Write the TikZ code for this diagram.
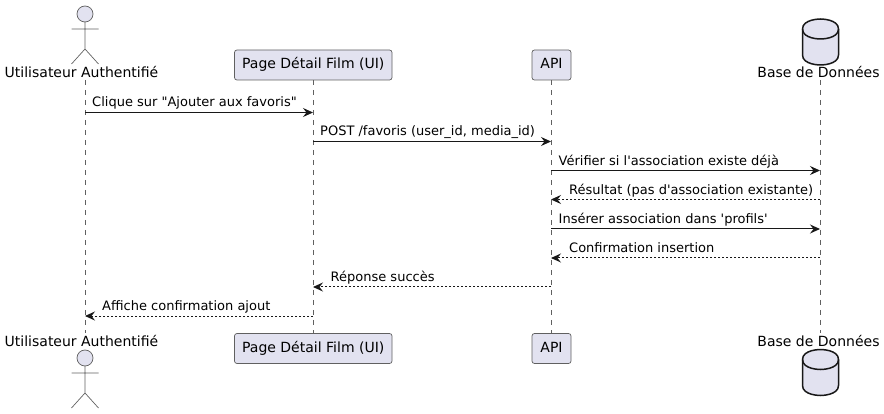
\documentclass[tikz,border=0pt]{standalone}
\usepackage{fontspec}
\setmainfont{DejaVu Sans}[Ligatures=TeXOff]
\usetikzlibrary{arrows.meta}
\definecolor{pfill}{HTML}{E2E2F0}
\definecolor{pline}{HTML}{181818}
\definecolor{thinline}{HTML}{606060}
\tikzset{
  x=1pt,y=-1pt,
  lifeline/.style={draw=thinline,line width=0.5pt,dash pattern=on 5pt off 5pt},
  partbox/.style={draw=thinline,fill=pfill,line width=0.7pt,rounded corners=2.5pt,inner sep=0pt,minimum height=30pt,text height=10.5pt,text depth=3pt,font=\fontsize{14}{16}\selectfont},
  partlabel/.style={inner sep=0pt,anchor=base,font=\fontsize{14}{16}\selectfont},
  actorline/.style={draw=thinline,line width=0.7pt},
  dbline/.style={draw=pline,line width=1.5pt},
  msg/.style={draw=pline,line width=1pt,-{Stealth[length=10pt,width=9pt,inset=3.5pt]}},
  msgret/.style={msg,dash pattern=on 2pt off 2pt},
  msgtext/.style={inner sep=0pt,anchor=base west,font=\fontsize{13}{15}\selectfont},
}
\newcommand{\actorfig}[2]{%
  \draw[actorline,fill=pfill] (#1,#2) circle[radius=8];
  \draw[actorline] (#1,#2+8) -- (#1,#2+35) (#1-13.5,#2+15) -- (#1+13.5,#2+15)
    (#1-13.5,#2+50) -- (#1,#2+35) -- (#1+13.5,#2+50);
}
\newcommand{\dbfig}[2]{%
  \filldraw[dbline,fill=pfill] (#1,#2+10) .. controls (#1,#2) and (#1+18,#2) .. (#1+18,#2)
    .. controls (#1+18,#2) and (#1+36,#2) .. (#1+36,#2+10) -- (#1+36,#2+36)
    .. controls (#1+36,#2+46) and (#1+18,#2+46) .. (#1+18,#2+46)
    .. controls (#1+18,#2+46) and (#1,#2+46) .. (#1,#2+36) -- cycle;
  \draw[dbline] (#1,#2+10) .. controls (#1,#2+20) and (#1+18,#2+20) .. (#1+18,#2+20)
    .. controls (#1+18,#2+20) and (#1+36,#2+20) .. (#1+36,#2+10);
}
\begin{document}
\begin{tikzpicture}
\useasboundingbox (0,0) rectangle (884,414);
% lifelines
\coordinate (ut) at (85,80); \coordinate (ub) at (85,333);
\coordinate (pt) at (313,80); \coordinate (pb) at (313,333);
\coordinate (at) at (551,80); \coordinate (ab) at (551,333);
\coordinate (dt) at (820,80); \coordinate (db) at (820,333);
\draw[lifeline] (ut) -- (ub);
\draw[lifeline] (pt) -- (pb);
\draw[lifeline] (at) -- (ab);
\draw[lifeline] (dt) -- (db);
% participants
\actorfig{85}{14}
\node[partlabel] (utop) at (81.5,78) {Utilisateur Authentifié};
\node[partbox,minimum width=157.5pt] (ptop) at (313.25,65) {Page Détail Film (UI)};
\node[partbox,minimum width=39pt] (atop) at (551.5,65) {API};
\dbfig{802.5}{19}
\node[partlabel] (dtop) at (818.5,78) {Base de Données};
\node[partlabel] (ubot) at (81.5,346) {Utilisateur Authentifié};
\node[partbox,minimum width=157.5pt] (pbot) at (313.25,348.5) {Page Détail Film (UI)};
\node[partbox,minimum width=39pt] (abot) at (551.5,348.5) {API};
\dbfig{802.5}{349.5}
\node[partlabel] (dbot) at (818.5,346) {Base de Données};
\actorfig{85}{358}
% message anchors
\foreach \n/\y in {1/112.5,2/141.5,3/170.5,4/199.5,5/229,6/258,7/287,8/316}{
  \coordinate (u\n) at (85,\y);
  \coordinate (p\n) at (313,\y);
  \coordinate (a\n) at (551,\y);
  \coordinate (d\n) at (820,\y);
}
\draw[msg] (u1) -- (p1);
\draw[msg] (p2) -- (a2);
\draw[msg] (a3) -- (d3);
\draw[msgret] (d4) -- (a4);
\draw[msg] (a5) -- (d5);
\draw[msgret] (d6) -- (a6);
\draw[msgret] (a7) -- (p7);
\draw[msgret] (p8) -- (u8);
\node[msgtext] (t1) at (92,107) {Clique sur "Ajouter aux favoris"};
\node[msgtext] (t2) at (320,136) {POST /favoris (user\_id, media\_id)};
\node[msgtext] (t3) at (558.5,165.5) {Vérifier si l'association existe déjà};
\node[msgtext] (t4) at (569,195) {Résultat (pas d'association existante)};
\node[msgtext] (t5) at (558.5,224) {Insérer association dans 'profils'};
\node[msgtext] (t6) at (569,253) {Confirmation insertion};
\node[msgtext] (t7) at (330.5,282) {Réponse succès};
\node[msgtext] (t8) at (102,311) {Affiche confirmation ajout};
\end{tikzpicture}
\end{document}
